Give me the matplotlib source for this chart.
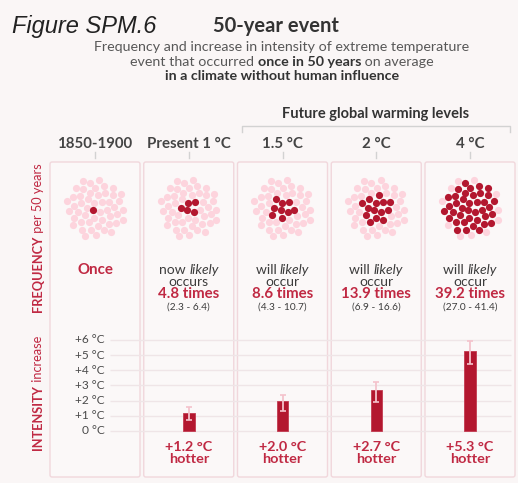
import numpy as np
import matplotlib
matplotlib.use("Agg")
import matplotlib.pyplot as plt
from matplotlib.patches import FancyBboxPatch

# ---------------------------------------------------------------- data
periods = ["1850-1900", "Present 1 °C", "1.5 °C", "2 °C", "4 °C"]
frequency = [1.0, 4.8, 8.6, 13.9, 39.2]          # events per 50 years
freq_low = [None, 2.3, 4.3, 6.9, 27.0]
freq_high = [None, 6.4, 10.7, 16.6, 41.4]
intensity = [None, 1.2, 2.0, 2.7, 5.3]           # °C hotter
intensity_low = [None, 0.7, 1.3, 1.9, 4.4]
intensity_high = [None, 1.6, 2.4, 3.2, 5.9]
intensity_ticks = [0, 1, 2, 3, 4, 5, 6]
intensity_tick_labels = ["0 °C", "+1 °C", "+2 °C", "+3 °C", "+4 °C", "+5 °C", "+6 °C"]
verb_first = [None, "now ", "will ", "will ", "will "]
verb_second = [None, "occurs", "occur", "occur", "occur"]
n_dots = 50

# ---------------------------------------------------------------- style
W, H, DPI = 518, 483, 100
BG = "#faf6f6"
PANEL_FC = "#fbf8f8"
PANEL_EC = "#f1d7dc"
DARK = "#b3172f"
LIGHT = "#fdd4dd"
RED_TXT = "#c02943"
GREY = "#3c3c3c"
SUB = "#585858"
GRID = "#efe5e7"
ERR = "#f4c3cc"
FONT = "Lato"

plt.rcParams["font.family"] = [FONT, "DejaVu Sans"]

fig = plt.figure(figsize=(W / DPI, H / DPI), dpi=DPI, facecolor=BG)
ax = fig.add_axes([0, 0, 1, 1])
ax.set_xlim(0, W)
ax.set_ylim(H, 0)
ax.axis("off")
renderer = fig.canvas.get_renderer()


def rich(x, y, parts, ha="center", rotation=0, size=9, color=GREY):
    """Draw a run of differently styled text pieces on one baseline."""
    texts = []
    for s, kw in parts:
        opts = dict(size=size, color=color)
        opts.update(kw)
        t = ax.text(0, 0, s, ha="left", va="baseline", rotation=rotation,
                    rotation_mode="anchor", **opts)
        texts.append(t)
    lengths = []
    for t in texts:
        bb = t.get_window_extent(renderer)
        lengths.append(bb.width if rotation == 0 else bb.height)
    total = sum(lengths)
    if rotation == 0:
        pos = x - total / 2 if ha == "center" else x
        for t, L in zip(texts, lengths):
            t.set_position((pos, y))
            pos += L
    else:
        pos = y + total / 2
        for t, L in zip(texts, lengths):
            t.set_position((x, pos))
            pos -= L
    return texts


# ---------------------------------------------------------------- titles
ax.text(12, 33, "Figure SPM.6", family=["Liberation Sans"], style="italic",
        size=17, color="#222222", ha="left", va="baseline")
ax.text(213, 31.5, "50-year event", weight="bold", size=14.5, color="#333333",
        ha="left", va="baseline")
ax.text(282, 51, "Frequency and increase in intensity of extreme temperature",
        size=10.3, color=SUB, ha="center", va="baseline")
rich(282, 65.5, [("event that occurred ", {}),
                 ("once in 50 years", {"weight": "bold", "color": "#333333"}),
                 (" on average", {})], size=10.3, color=SUB)
ax.text(282, 80, "in a climate without human influence", weight="bold",
        size=10.3, color="#333333", ha="center", va="baseline")

ax.text(376, 118, "Future global warming levels", weight="bold", size=10.5,
        color="#333333", ha="center", va="baseline")
ax.plot([242, 242, 510, 510], [132, 126, 126, 132], color="#d2d2d2", lw=1)

# ---------------------------------------------------------------- panels
x_first, step, pw = 50, 93.75, 90
top, bottom = 162, 477
centers = [x_first + pw / 2 + i * step for i in range(len(periods))]

for i, name in enumerate(periods):
    x0 = x_first + i * step
    ax.add_patch(FancyBboxPatch((x0, top), pw, bottom - top,
                                boxstyle="round,pad=0,rounding_size=2",
                                fc=PANEL_FC, ec=PANEL_EC, lw=1, zorder=0))
    ax.text(centers[i], 148, name, weight="bold", size=10.8, color="#444444",
            ha="center", va="baseline")
    ax.plot([centers[i], centers[i]], [152, 158], color="#d2d2d2", lw=1)

# ---------------------------------------------------------------- dot clusters
# sunflower arrangement: innermost dots are filled first
golden = np.pi * (3 - np.sqrt(5))
k = np.arange(n_dots)
rad = 4.3 * np.sqrt(k + 0.5)
ang = k * golden + 2.2
pts = np.column_stack([rad * np.cos(ang), rad * np.sin(ang)])
cy = 208

for i, f in enumerate(frequency):
    n_dark = int(round(f))
    cx = centers[i]
    ax.scatter(cx + pts[n_dark:, 0], cy + pts[n_dark:, 1], s=27, color=LIGHT,
               lw=0, zorder=3)
    ax.scatter(cx + pts[:n_dark, 0], cy + pts[:n_dark, 1], s=27, color=DARK,
               lw=0, zorder=4)

# ---------------------------------------------------------------- frequency text
for i, f in enumerate(frequency):
    cx = centers[i]
    if freq_low[i] is None:
        ax.text(cx, 274, "Once", weight="bold", size=10.8, color=RED_TXT,
                ha="center", va="baseline")
        continue
    rich(cx, 274, [(verb_first[i], {}), ("likely", {"style": "italic"})],
         size=10, color=GREY)
    ax.text(cx, 286, verb_second[i], size=10, color=GREY, ha="center",
            va="baseline")
    ax.text(cx, 298, f"{f:.1f} times", weight="bold", size=10.8, color=RED_TXT,
            ha="center", va="baseline")
    ax.text(cx, 310, f"({freq_low[i]:.1f} - {freq_high[i]:.1f})", size=7.3,
            color=GREY, ha="center", va="baseline")

# ---------------------------------------------------------------- side labels
rich(42, 238, [("FREQUENCY", {"weight": "bold"}), (" per 50 years", {})],
     rotation=90, size=9.2, color=RED_TXT)
rich(42, 393, [("INTENSITY", {"weight": "bold"}), (" increase", {})],
     rotation=90, size=9.2, color=RED_TXT)

# ---------------------------------------------------------------- intensity bars
px_per_deg = 15.17
zero_px = 431
ax_top_px, ax_bot_px = 330, 440
bx = fig.add_axes([0, (H - ax_bot_px) / H, 1, (ax_bot_px - ax_top_px) / H])
bx.set_xlim(0, W)
bx.set_ylim(-(ax_bot_px - zero_px) / px_per_deg, (zero_px - ax_top_px) / px_per_deg)
bx.axis("off")
bx.patch.set_alpha(0)

bx.hlines(intensity_ticks, 110, 511, color=GRID, lw=1, zorder=0)
for v, lab in zip(intensity_ticks, intensity_tick_labels):
    bx.text(105, v, lab, ha="right", va="center", size=8.6, color="#4a4a4a")

bar_x = [centers[i] for i in range(len(periods)) if intensity[i] is not None]
bar_v = [v for v in intensity if v is not None]
lo = [v - l for v, l in zip(intensity, intensity_low) if v is not None]
hi = [h - v for v, h in zip(intensity, intensity_high) if v is not None]
bx.bar(bar_x, bar_v, width=11.5, color=DARK, edgecolor="#c23a50", lw=0.6,
       zorder=2)
bx.errorbar(bar_x, bar_v, yerr=[lo, hi], fmt="none", ecolor=ERR,
            elinewidth=1.3, capsize=2, capthick=1.2, zorder=3)

for x, v in zip(bar_x, bar_v):
    ax.text(x, 451, f"+{v:.1f} °C", weight="bold", size=10.4, color=RED_TXT,
            ha="center", va="baseline")
    ax.text(x, 463, "hotter", weight="bold", size=10.4, color=RED_TXT,
            ha="center", va="baseline")

fig.savefig("out.png", dpi=DPI, facecolor=BG)
